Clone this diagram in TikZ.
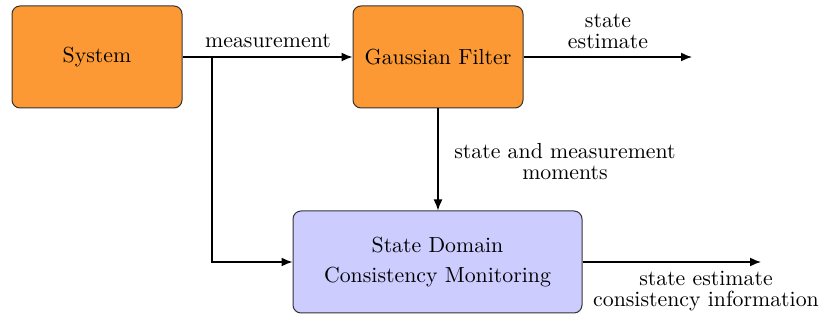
\documentclass[tikz,border=0pt]{standalone}
\usetikzlibrary{arrows.meta}
\definecolor{boxorange}{RGB}{252,153,52}
\definecolor{boxlav}{RGB}{204,204,255}
\begin{document}
\begin{tikzpicture}[x=0.5pt,y=-0.5pt,
 font=\rmfamily\fontsize{10.9}{15}\selectfont,
 blockbox/.style={draw=black!80, line width=0.5pt, rounded corners=4pt, inner sep=0pt, align=center},
 conn/.style={line width=0.75pt, -{Latex[length=5.5pt,width=4.5pt]}},
 lbl/.style={align=center, inner sep=0pt, font=\rmfamily\fontsize{10.9}{10.5}\selectfont}]
\useasboundingbox (0,0) rectangle (827,320);
\node[blockbox, fill=boxorange, minimum width=85pt, minimum height=51pt] (sys) at (97,57) {System};
\node[blockbox, fill=boxorange, minimum width=85pt, minimum height=51pt] (gf) at (438,57) {Gaussian Filter};
\node[blockbox, fill=boxlav, minimum width=144.5pt, minimum height=51pt] (cm) at (437.5,262) {State Domain\\Consistency Monitoring};
\coordinate (br) at (212,57);
\coordinate (gfout) at (692,57);
\coordinate (cmout) at (761,262);
\draw[conn] (sys.east) -- (gf.west);
\draw[conn] (br) |- (cm.west);
\draw[conn] (gf.east) -- (gfout);
\draw[conn] (gf.south) -- (gf.south |- cm.north);
\draw[conn] (cm.east) -- (cmout);
\node[lbl] (lmeas) at (268,41) {measurement};
\node[lbl] (lest) at (608,31) {state\\estimate};
\node[lbl] (lmom) at (565,162) {state and measurement\\moments};
\node[lbl] (lcons) at (706,291) {state estimate\\consistency information};
\end{tikzpicture}
\end{document}
